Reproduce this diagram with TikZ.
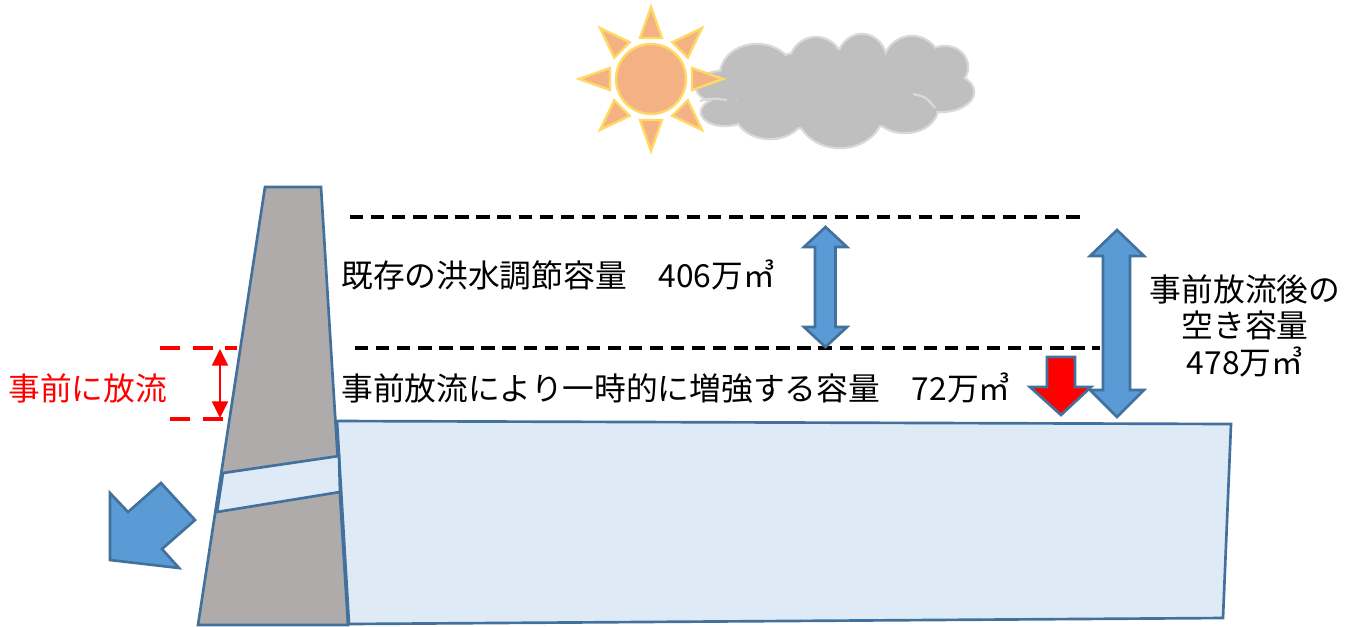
\documentclass[tikz,border=0pt]{standalone}
\usepackage{fontspec}
\newfontfamily\jpfont{Noto Sans CJK JP}
\usetikzlibrary{arrows.meta,calc}
\definecolor{damgray}{HTML}{AFABAB}
\definecolor{edgeblue}{HTML}{41719C}
\definecolor{waterblue}{HTML}{DEEBF7}
\definecolor{arrowblue}{HTML}{5B9BD5}
\definecolor{sunfill}{HTML}{F4B183}
\definecolor{sunedge}{HTML}{FFD966}
\definecolor{cloudfill}{HTML}{BFBFBF}
\definecolor{cloudedge}{HTML}{D9D9D9}
\definecolor{alertred}{HTML}{FF0000}

\begin{document}
\begin{tikzpicture}[x=0.75pt,y=-0.75pt,
  outline/.style={draw=edgeblue,line width=2pt,line join=miter},
  txt/.style={font=\jpfont\fontsize{23.8}{28}\selectfont,inner sep=0pt},
  levelline/.style={line width=2.6pt,dash pattern=on 10pt off 5.8pt},
  redlevel/.style={alertred,line width=2.6pt,dash pattern=on 15pt off 9.5pt},
  sunray/.style={fill=sunfill,draw=sunedge,line width=1.8pt,line join=miter},
  cloudbump/.style={fill=cloudfill}]

\useasboundingbox (0,0) rectangle (1358,626);

% ---------- cloud ----------
\begin{scope}
  \def\bumps{757/75/36/30, 816/65/26/27, 862/62/24/27, 912/68/29/31,
             945/67/22/20, 940/92/33/19, 905/108/32/24, 840/112/42/35,
             770/110/35/28, 725/112/23/13, 722/87/25/15, 835/90/95/40}
  \foreach \cx/\cy/\rx/\ry in \bumps
    \filldraw[fill=cloudedge,draw=cloudedge,line width=3.4pt]
      (\cx,\cy) ellipse [x radius=\rx, y radius=\ry];
  \foreach \cx/\cy/\rx/\ry in \bumps
    \fill[cloudbump] (\cx,\cy) ellipse [x radius=\rx, y radius=\ry];
  \draw[cloudedge,line width=1.7pt] (913,94) .. controls (926,97) .. (935,108);
  \draw[cloudedge,line width=1.7pt] (700,101) .. controls (712,98) .. (727,100);
\end{scope}

% ---------- sun ----------
\coordinate (sunc) at (651,79);
\foreach \a in {0,45,...,315}
  \filldraw[sunray] ($(sunc)+(\a:72)$) -- ($(sunc)+(\a:41)+(\a+90:11)$)
                    -- ($(sunc)+(\a:41)+(\a-90:11)$) -- cycle;
\filldraw[fill=sunfill,draw=sunedge,line width=1.8pt] (sunc) circle [radius=35];

% ---------- reservoir ----------
\coordinate (wTL) at (337,421);
\coordinate (wTR) at (1231,424);
\coordinate (wBR) at (1223,618);
\coordinate (wBL) at (349,624);
\filldraw[outline,fill=waterblue] (wTL) -- (wTR) -- (wBR) -- (wBL) -- cycle;

% ---------- dam body ----------
\coordinate (dTL) at (265,187);
\coordinate (dTR) at (321,187);
\coordinate (dBR) at (348,625);
\coordinate (dBL) at (198,625);
\filldraw[outline,fill=damgray] (dTL) -- (dTR) -- (dBR) -- (dBL) -- cycle;

% spillway opening through the dam
\coordinate (sTL) at (223,473);
\coordinate (sTR) at (339,456);
\coordinate (sBR) at (340,492);
\coordinate (sBL) at (217,512);
\filldraw[outline,fill=waterblue] (sTL) -- (sTR) -- (sBR) -- (sBL) -- cycle;

% outflow arrow
\filldraw[outline,fill=arrowblue]
  (110,493) -- (128,512) -- (161,483) -- (195,520) -- (162,549)
  -- (179,568) -- (110,560) -- cycle;

% ---------- water levels ----------
\coordinate (lvA1) at (350,217);
\coordinate (lvA2) at (1083,217);
\coordinate (lvB1) at (355,348);
\coordinate (lvB2) at (1100,348);
\draw[levelline] (lvA1) -- (lvA2);
\draw[levelline] (lvB1) -- (lvB2);

% red release band
\coordinate (rA1) at (160,348);
\coordinate (rA2) at (237,348);
\coordinate (rB1) at (170,419);
\coordinate (rB2) at (228,419);
\draw[redlevel] (rA1) -- (rA2);
\draw[redlevel] (rB1) -- (rB2);
\coordinate (ra1) at (220,349);
\coordinate (ra2) at (220,418);
\draw[alertred,line width=1.6pt,
  {Triangle[length=12.5pt,width=12pt]}-{Triangle[length=12.5pt,width=12pt]}]
  (ra1) -- (ra2);

% ---------- volume arrows ----------
% existing flood-control capacity
\filldraw[outline,fill=arrowblue]
  (825.5,227) -- (847,247) -- (835.5,247) -- (835.5,327) -- (847,327)
  -- (825.5,347) -- (804,327) -- (815,327) -- (815,247) -- (804,247) -- cycle;
% total free capacity after release
\filldraw[outline,fill=arrowblue]
  (1117,230) -- (1144,256) -- (1130,256) -- (1130,390) -- (1144,390)
  -- (1117,417) -- (1090,390) -- (1103,390) -- (1103,256) -- (1090,256) -- cycle;
% drawdown
\filldraw[outline,fill=alertred]
  (1047,357) -- (1075,357) -- (1075,387) -- (1091,387) -- (1061,415)
  -- (1030,387) -- (1047,387) -- cycle;

% ---------- labels ----------
\node[txt,anchor=base west] (capA) at (341,287) {既存の洪水調節容量　406万㎥};
\node[txt,anchor=base west] (capB) at (341,400) {事前放流により一時的に増強する容量　72万㎥};
\node[txt,anchor=base west,text=alertred] (rel) at (8,400) {事前に放流};
\node[txt,anchor=base] (tot1) at (1245,301) {事前放流後の};
\node[txt,anchor=base] (tot2) at (1245,337) {空き容量};
\node[txt,anchor=base] (tot3) at (1245,374) {478万㎥};

\end{tikzpicture}
\end{document}
